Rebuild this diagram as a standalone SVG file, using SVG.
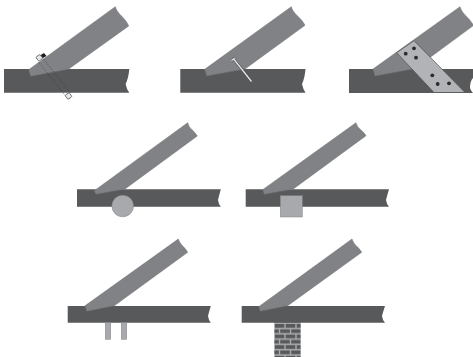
<svg xmlns="http://www.w3.org/2000/svg" width="473" height="357" viewBox="0 0 473 357">
<style>
.beam{fill:#58595b}
.raft{fill:#808285;stroke:#6d6e71;stroke-width:.5}
.light{fill:#a7a9ac;stroke:#808285;stroke-width:.5}
.plate{fill:#b1b3b6;stroke:#4f5052;stroke-width:.7}
.dash{fill:none;stroke:#3a3a3c;stroke-width:.5;stroke-dasharray:1.8 1.2}
.hw{fill:#e6e7e8;stroke:#6d6e71;stroke-width:.9}
.shank{fill:none;stroke:#4f5052;stroke-width:2.6}
.core{fill:none;stroke:#e6e7e8;stroke-width:1.3}
.hole{fill:#2b2b2d}
</style>
<defs>
<pattern id="brick" patternUnits="userSpaceOnUse" x="274" y="324" width="22" height="10.6">
<rect width="22" height="10.6" fill="#a7a9ac"/>
<rect x="0.7" y="0" width="9.6" height="3.7" fill="#58595b"/>
<rect x="11.7" y="0" width="9.6" height="3.7" fill="#58595b"/>
<rect x="-4.8" y="5.3" width="9.6" height="3.7" fill="#58595b"/>
<rect x="6.2" y="5.3" width="9.6" height="3.7" fill="#58595b"/>
<rect x="17.2" y="5.3" width="9.6" height="3.7" fill="#58595b"/>
</pattern>
</defs>
<g id="joint-bolt">
<path class="beam" d="M4 69H129.3Q128.6 78 125.6 84Q126.5 89 129.3 92.8H4Z"/>
<path d="M40 55.5L44 53L46.5 56L42 58.5Z" fill="#231f20"/>
<path class="raft" d="M28.7 69.7L115.3 6.7C117 14 125 17 128.7 26L68.3 69.3L30.7 76.3Z"/>
<path class="dash" d="M43.5 59L70.5 93M39 62.5L66 96.5"/>
<rect class="hw" x="36.8" y="55.3" width="5" height="5" rx="1" transform="rotate(-35 39.3 57.8)"/>
<rect class="hw" x="66" y="93.5" width="5" height="5" rx="1" transform="rotate(-35 68.5 96)"/>
</g>
<g id="joint-nail">
<path class="beam" d="M180.3 69H305.5Q304.8 78 302 84Q303 89 305.5 92.8H180.3Z"/>
<path class="raft" d="M204.7 69.3L291.3 6.7C293 14 301 17 305 25.3L245 69L206.7 76Z"/>
<path class="shank" d="M233.7 59L251.5 81.5M231.5 60.5L234.5 58.3"/>
<path class="core" d="M233.7 59L251.5 81.5M231.5 60.5L234.5 58.3"/>
</g>
<g id="joint-plate">
<path class="beam" d="M349 69H473V78Q470 81 470 88Q471 91 473 93H349Z"/>
<path class="raft" d="M373 69L460 6.7C462 14 469 17 473.5 25.5L432 56L413 69L375 76Z"/>
<path class="plate" d="M414 40.7L396.7 52.7L434 92.5H465Z"/>
<circle class="hole" cx="414" cy="48.3" r="1.9"/>
<circle class="hole" cx="405.7" cy="53.7" r="1.9"/>
<circle class="hole" cx="416" cy="57.7" r="1.9"/>
<circle class="hole" cx="432.3" cy="75.3" r="1.9"/>
<circle class="hole" cx="437.7" cy="84" r="1.9"/>
<circle class="hole" cx="449" cy="83.3" r="1.9"/>
</g>
<g id="joint-round">
<path class="beam" d="M77 189.3H220.8Q219 196 218 200Q218.5 204 220.8 206.7H77Z"/>
<path class="raft" d="M94.3 190.7L187.7 122.7C189 129 194 130 197.3 136L125 189L96 194.3Z"/>
<circle class="light" cx="122.7" cy="206" r="10.8"/>
</g>
<g id="joint-square">
<path class="beam" d="M245.7 189.3H389Q387 196 386 200Q386.5 204 389 206.7H245.7Z"/>
<path class="raft" d="M262.7 189.7L356 122.7C357.5 129 363 130 366 135.7L293.3 189L264.3 194.3Z"/>
<rect class="light" x="280.3" y="195.7" width="22" height="21.3"/>
</g>
<g id="joint-posts">
<path class="beam" d="M67.7 306H210.8Q209 312 208 316Q208.5 320 210.8 322.7H67.7Z"/>
<path class="raft" d="M85 305.7L178.3 239C180 245 185 247 187.7 252.3L114.3 305.7L86.7 311.3Z"/>
<rect class="light" x="105.3" y="322.7" width="5.4" height="16.6"/>
<rect class="light" x="121.3" y="322.7" width="5.4" height="16.6"/>
</g>
<g id="joint-brick">
<rect x="274.3" y="322" width="26.4" height="35" fill="url(#brick)"/>
<path class="beam" d="M241.7 306H385Q383 312 382 316Q382.5 320 385 322.7H241.7Z"/>
<path class="raft" d="M258.7 306.7L352 239C353.5 245 359 247 361.7 252.3L287.7 305.7L260.3 311.3Z"/>
</g>
</svg>
